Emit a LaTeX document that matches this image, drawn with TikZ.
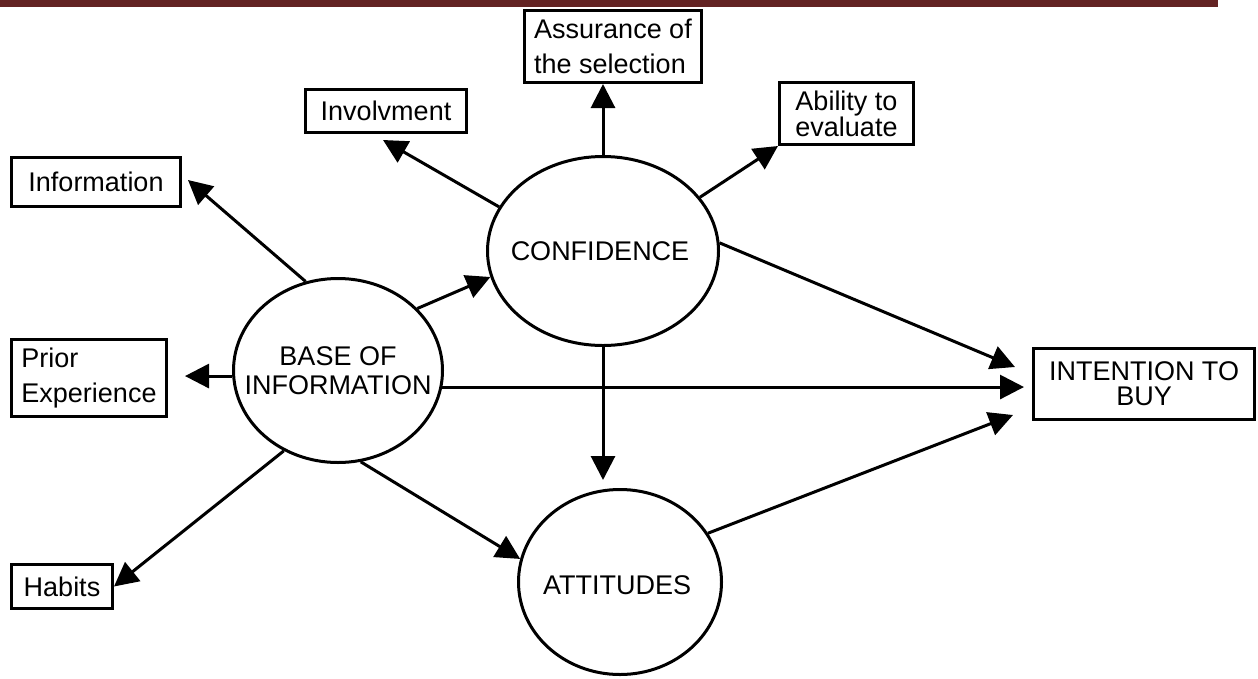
\documentclass[tikz,border=0pt]{standalone}
\usepackage{fontspec}
\setmainfont{Liberation Sans}
\usetikzlibrary{arrows.meta,shapes.geometric,calc}
\definecolor{barred}{RGB}{99,35,35}
\begin{document}
\begin{tikzpicture}[x=1pt,y=-1pt,
  every node/.style={font=\fontsize{27}{27}\selectfont, inner sep=0pt},
  box/.style={draw, line width=3pt, rectangle},
  oval/.style={draw, line width=3pt, ellipse},
  arr/.style={line width=3pt, -{Triangle[length=24pt,width=24pt]}}]
\useasboundingbox (0,0) rectangle (1258,678);
\fill[barred] (0,0) rectangle (1218,7);
% boxes
\node[box, minimum width=177pt, minimum height=72pt, align=left, font=\fontsize{27}{35}\selectfont] (assur) at (613,46.5) {Assurance of\\the selection};
\node[box, minimum width=134pt, minimum height=62pt, align=center, font=\fontsize{27}{25}\selectfont] (abil) at (846.5,113.5) {Ability to\\evaluate};
\node[box, minimum width=161pt, minimum height=43pt] (inv) at (386,111) {Involvment};
\node[box, minimum width=169pt, minimum height=49pt] (info) at (96,182) {Information};
\node[box, minimum width=155pt, minimum height=77pt, align=left, font=\fontsize{27}{35}\selectfont] (prior) at (89,378) {Prior\\Experience};
\node[box, minimum width=101pt, minimum height=44pt] (habits) at (62,586.5) {Habits};
\node[box, minimum width=221pt, minimum height=71pt, align=center, font=\fontsize{27}{25}\selectfont] (intent) at (1144,384) {INTENTION TO\\BUY};
% ellipses (text as centred labels so the outline keeps its size)
\node[oval, minimum width=209pt, minimum height=184pt,
  label={[align=center, font=\fontsize{27}{29}\selectfont]center:BASE OF\\INFORMATION}] (base) at (338,370.5) {};
\node[oval, minimum width=231pt, minimum height=189pt,
  label={[xshift=-3pt]center:CONFIDENCE}] (conf) at (603,251) {};
\node[oval, minimum width=203pt, minimum height=185pt,
  label={[xshift=-3pt, yshift=-3pt]center:ATTITUDES}] (att) at (620,582) {};
% connectors
\draw[arr] (base.110) -- ($(info.east)+(6,-2)$);
\draw[arr] (base.38) -- (conf.193);
\draw[arr] (base.183) -- ($(base.183 -| prior.east)+(17,0)$);
\draw[arr] (base.-9) -- ($(base.-9 -| intent.west)+(-8,0)$);
\draw[arr] (base.236) -- (habits.east);
\draw[arr] (base.284) -- (att.167);
\draw[arr] (conf.157) -- ($(inv.south)+(-3,6)$);
\draw[arr] (conf.north) -- (conf.north |- assur.south);
\draw[arr] (conf.29) -- (abil.south west);
\draw[arr] (conf.4) -- ($(intent.west)+(-17,-17)$);
\draw[arr] (conf.south) -- ($(conf.south |- att.north)+(0,-8)$);
\draw[arr] (att.29) -- ($(intent.south west)+(-19,-6)$);
\end{tikzpicture}
\end{document}
